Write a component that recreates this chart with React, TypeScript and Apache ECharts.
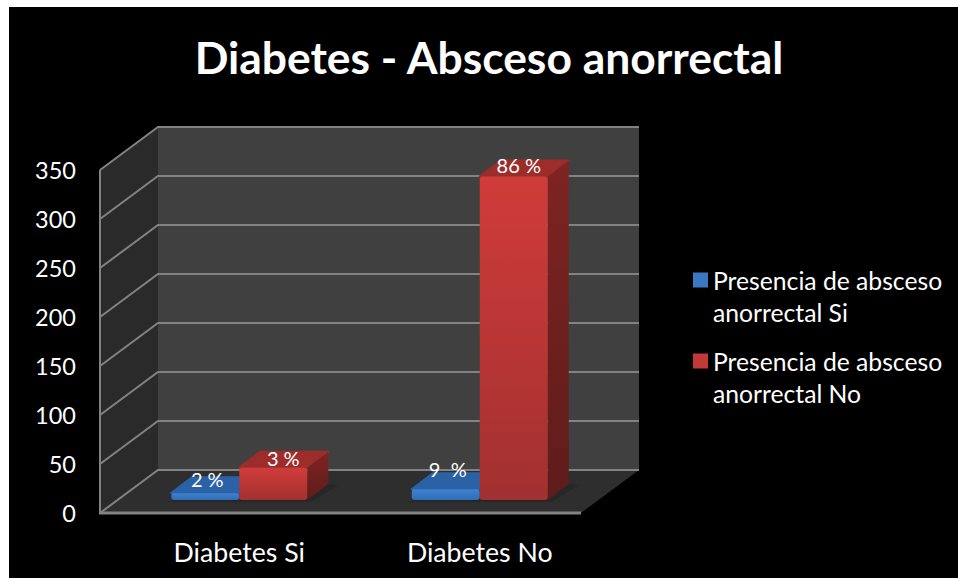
import React, { useEffect, useRef } from "react";
import * as echarts from "echarts";

const titleText = "Diabetes - Absceso anorrectal";
const categories = ["Diabetes Si", "Diabetes No"];
const seriesNames = ["Presencia de absceso\nanorrectal Si", "Presencia de absceso\nanorrectal No"];
const valuesSi = [7, 11];
const valuesNo = [33, 330];
const labelsSi = ["2 %", "9  %"];
const labelsNo = ["3 %", "86 %"];
const yTicks = [0, 50, 100, 150, 200, 250, 300, 350];

const FONT = "Lato, Carlito, Calibri, sans-serif";
const BAR_W = 68;
const DEPTH = [21, -16];
// Offsets from the bar plane (the grid) to the chart box's front and back planes.
const FRONT_X = -19;
const BACK = [39, -43];
const BASE_UP = -13;
// Hand-placed data labels, relative to the centre of the bar's front top edge.
const labelOffsetsSi = [[2, -14], [2, -20]];
const labelOffsetsNo = [[10, -10], [5, -12]];

const v = (a: string, b: string) => new echarts.graphic.LinearGradient(0, 0, 0, 1, [
  { offset: 0, color: a },
  { offset: 1, color: b },
]);

const renderWalls = (params: any, api: any) => {
  const tick = api.value(1);
  const band = api.size([1, 0])[0];
  const left = api.coord([0, 0])[0] - band / 2;
  const fx = left + FRONT_X;
  const fw = band * 2;
  const yOf = (t: number) => api.coord([0, t])[1];
  const y = yOf(tick);
  const line = { stroke: "#828282", lineWidth: 2, fill: "none" };
  const children: any[] = [];
  if (params.dataIndex === 0) {
    const y0 = yOf(0);
    const yTop = yOf(yTicks[yTicks.length - 1]);
    children.push(
      { type: "polygon", shape: { points: [[fx, y0], [left + BACK[0], y0 + BACK[1]], [left + BACK[0], yTop + BACK[1]], [fx, yTop]] }, style: { fill: "#2a2a2a" } },
      { type: "rect", shape: { x: left + BACK[0], y: yTop + BACK[1], width: fw, height: y0 - yTop }, style: { fill: "#404040" } },
      { type: "polygon", shape: { points: [[fx, y0], [fx + fw, y0], [left + BACK[0] + fw, y0 + BACK[1]], [left + BACK[0], y0 + BACK[1]]] }, style: { fill: "#2e2e2e" } },
      { type: "line", shape: { x1: fx, y1: yTop, x2: fx, y2: y0 }, style: line },
      { type: "line", shape: { x1: fx - 1, y1: y0, x2: fx + fw, y2: y0 }, style: { ...line, lineWidth: 3 } },
    );
  }
  children.push({
    type: "polyline",
    shape: { points: [[fx, y], [left + BACK[0], y + BACK[1]], [left + BACK[0] + fw, y + BACK[1]]] },
    style: line,
  });
  return { type: "group", children };
};

const makeBars = (
  sign: number,
  labels: string[],
  offsets: number[][],
  c: { front: [string, string]; top: string; side: [string, string] },
) => (params: any, api: any) => {
  const [cx, yVal] = api.coord([api.value(0), api.value(1)]);
  const yBase = api.coord([0, 0])[1] + BASE_UP;
  const yTop = yVal + BASE_UP;
  const x0 = sign < 0 ? cx - BAR_W : cx;
  const x1 = x0 + BAR_W;
  const [dx, dy] = DEPTH;
  const off = offsets[params.dataIndex];
  return {
    type: "group",
    children: [
      { type: "polygon", shape: { points: [[x0 - 6, yBase + 2], [x1 + 4, yBase + 2], [x1 + dx + 10, yBase + dy + 1], [x1 + dx, yBase + dy]] }, style: { fill: "#272727" } },
      { type: "polygon", shape: { points: [[x0 + dx, yTop + dy], [x1 + dx, yTop + dy], [x1, yTop], [x0, yTop]] }, style: { fill: c.top, stroke: c.top, lineWidth: 2, lineJoin: "round" } },
      { type: "polygon", shape: { points: [[x1, yTop], [x1 + dx, yTop + dy], [x1 + dx, yBase + dy], [x1, yBase]] }, style: { fill: v(c.side[0], c.side[1]) } },
      { type: "rect", shape: { x: x0, y: yTop, width: BAR_W, height: yBase - yTop, r: 3 }, style: { fill: v(c.front[0], c.front[1]) } },
      {
        type: "text",
        style: {
          text: labels[params.dataIndex],
          x: cx + (sign * BAR_W) / 2 + off[0],
          y: yTop + off[1],
          fill: "#ffffff",
          font: `20px ${FONT}`,
          align: "center",
          verticalAlign: "middle",
        },
      },
    ],
  };
};

export default function App() {
  const ref = useRef<HTMLDivElement>(null);
  useEffect(() => {
    const chart = echarts.init(ref.current!, undefined, { renderer: "svg" });
    chart.setOption({
      animation: false,
      backgroundColor: "#ffffff",
      graphic: [{ type: "rect", z: -10, shape: { x: 9, y: 7, width: 949, height: 571 }, style: { fill: "#000000" } }],
      title: {
        text: titleText,
        left: 484,
        top: 29,
        textAlign: "center",
        textStyle: { color: "#ffffff", fontFamily: FONT, fontWeight: "bold", fontSize: 44.4 },
      },
      legend: {
        orient: "vertical",
        left: 688,
        top: 259,
        itemWidth: 15,
        itemHeight: 64,
        itemGap: 17,
        icon: "path://M0 17H15V32H0ZM0 64H0.01V64Z",
        data: seriesNames,
        textStyle: { color: "#ffffff", fontFamily: FONT, fontSize: 24.7, lineHeight: 32 },
        selectedMode: false,
      },
      grid: { left: 119, top: 170, width: 481, height: 343 },
      xAxis: {
        type: "category",
        data: categories,
        axisLine: { show: false },
        axisTick: { show: false },
        axisLabel: { color: "#ffffff", fontFamily: FONT, fontSize: 26.7, margin: 25, interval: 0 },
      },
      yAxis: {
        type: "value",
        min: 0,
        max: 350,
        interval: 50,
        axisLine: { show: false },
        axisTick: { show: false },
        splitLine: { show: false },
        axisLabel: { color: "#ffffff", fontFamily: FONT, fontSize: 23.5, margin: 43 },
      },
      series: [
        {
          name: "walls",
          type: "custom",
          clip: false,
          silent: true,
          data: yTicks.map((t) => [0, t]),
          encode: { x: 0, y: 1 },
          renderItem: renderWalls,
        },
        {
          name: seriesNames[0],
          type: "custom",
          clip: false,
          itemStyle: { color: "#3a78c2" },
          data: valuesSi.map((n, i) => [i, n]),
          encode: { x: 0, y: 1 },
          renderItem: makeBars(-1, labelsSi, labelOffsetsSi, { front: ["#3f82d0", "#2f6cb4"], top: "#2b62a6", side: ["#1f4b80", "#1f4b80"] }),
        },
        {
          name: seriesNames[1],
          type: "custom",
          clip: false,
          itemStyle: { color: "#c23a38" },
          data: valuesNo.map((n, i) => [i, n]),
          encode: { x: 0, y: 1 },
          renderItem: makeBars(1, labelsNo, labelOffsetsNo, { front: ["#d03c3a", "#a23030"], top: "#9c2d2b", side: ["#7e2422", "#5e1c1a"] }),
        },
      ],
    });
    return () => chart.dispose();
  }, []);
  return <div ref={ref} style={{ position: "fixed", left: 0, top: 0, width: 958, height: 578 }} />;
}
